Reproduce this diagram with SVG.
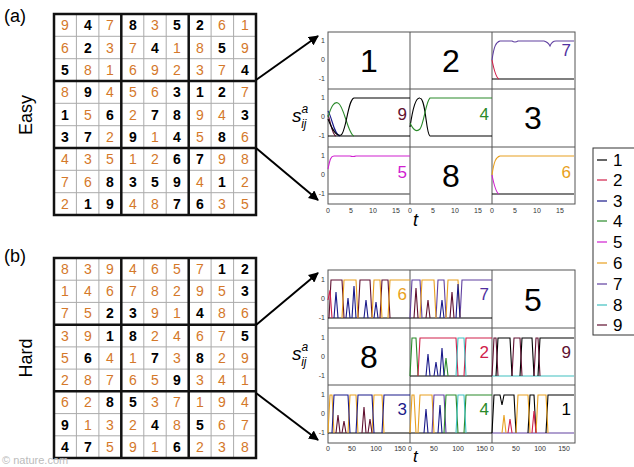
<svg xmlns="http://www.w3.org/2000/svg" width="634" height="467" viewBox="0 0 634 467">
<style>
text{font-family:"Liberation Sans",Arial,sans-serif}
.o{fill:#d4782a;font-size:14px;text-anchor:middle}
.b{fill:#000;font-size:14px;font-weight:bold;text-anchor:middle}
.thin{stroke:#aaa;stroke-width:1;fill:none}
.thick{stroke:#111;stroke-width:2.5;fill:none}
.pan{fill:#fff;stroke:#555;stroke-width:1}
.big{font-size:32px;text-anchor:middle;fill:#000}
.lab{font-size:17px;text-anchor:end}
.tk{font-size:7px;fill:#333;font-family:"Liberation Serif",serif}
.c{fill:none;stroke-width:1.1}
.arr{stroke:#000;stroke-width:2;fill:none;marker-end:url(#ah)}
.leg{font-size:17px;fill:#000}
</style>
<defs>
<marker id="ah" viewBox="0 0 10 10" refX="9" refY="5" markerWidth="5" markerHeight="5" orient="auto"><path d="M0,0 L10,5 L0,10 z" fill="#000"/></marker>
</defs>
<rect width="634" height="467" fill="#fff"/>
<text x="4" y="22" font-family="Liberation Serif,serif" font-size="18">(a)</text>
<text x="4" y="262" font-family="Liberation Serif,serif" font-size="18">(b)</text>
<text transform="translate(32,115) rotate(-90)" font-size="18" text-anchor="middle">Easy</text>
<text transform="translate(32,358) rotate(-90)" font-size="18" text-anchor="middle">Hard</text>

<g id="easy-grid">
<path class="thin" d="M76.4,14v201M98.9,14v201M143.8,14v201M166.2,14v201M211.1,14v201M233.6,14v201M54,36.3h202M54,58.7h202M54,103.3h202M54,125.7h202M54,170.3h202M54,192.7h202"/>
<path class="thick" d="M54,14h202v201h-202zM121.3,14v201M188.7,14v201M54,81h202M54,148h202"/>
<g id="easy-digits">
<text class="o" x="65" y="30">9</text><text class="b" x="88" y="30">4</text><text class="o" x="110" y="30">7</text><text class="b" x="133" y="30">8</text><text class="o" x="155" y="30">3</text><text class="b" x="177" y="30">5</text><text class="b" x="200" y="30">2</text><text class="o" x="222" y="30">6</text><text class="o" x="245" y="30">1</text>
<text class="o" x="65" y="53">6</text><text class="b" x="88" y="53">2</text><text class="o" x="110" y="53">3</text><text class="o" x="133" y="53">7</text><text class="b" x="155" y="53">4</text><text class="o" x="177" y="53">1</text><text class="o" x="200" y="53">8</text><text class="b" x="222" y="53">5</text><text class="o" x="245" y="53">9</text>
<text class="b" x="65" y="75">5</text><text class="o" x="88" y="75">8</text><text class="o" x="110" y="75">1</text><text class="o" x="133" y="75">6</text><text class="o" x="155" y="75">9</text><text class="o" x="177" y="75">2</text><text class="o" x="200" y="75">3</text><text class="o" x="222" y="75">7</text><text class="b" x="245" y="75">4</text>
<text class="o" x="65" y="97">8</text><text class="b" x="88" y="97">9</text><text class="o" x="110" y="97">4</text><text class="o" x="133" y="97">5</text><text class="o" x="155" y="97">6</text><text class="b" x="177" y="97">3</text><text class="b" x="200" y="97">1</text><text class="b" x="222" y="97">2</text><text class="o" x="245" y="97">7</text>
<text class="b" x="65" y="120">1</text><text class="o" x="88" y="120">5</text><text class="b" x="110" y="120">6</text><text class="o" x="133" y="120">2</text><text class="b" x="155" y="120">7</text><text class="b" x="177" y="120">8</text><text class="o" x="200" y="120">9</text><text class="o" x="222" y="120">4</text><text class="b" x="245" y="120">3</text>
<text class="b" x="65" y="142">3</text><text class="b" x="88" y="142">7</text><text class="o" x="110" y="142">2</text><text class="b" x="133" y="142">9</text><text class="o" x="155" y="142">1</text><text class="b" x="177" y="142">4</text><text class="o" x="200" y="142">5</text><text class="b" x="222" y="142">8</text><text class="o" x="245" y="142">6</text>
<text class="o" x="65" y="164">4</text><text class="o" x="88" y="164">3</text><text class="o" x="110" y="164">5</text><text class="o" x="133" y="164">1</text><text class="o" x="155" y="164">2</text><text class="b" x="177" y="164">6</text><text class="b" x="200" y="164">7</text><text class="o" x="222" y="164">9</text><text class="o" x="245" y="164">8</text>
<text class="o" x="65" y="187">7</text><text class="o" x="88" y="187">6</text><text class="b" x="110" y="187">8</text><text class="b" x="133" y="187">3</text><text class="b" x="155" y="187">5</text><text class="b" x="177" y="187">9</text><text class="o" x="200" y="187">4</text><text class="b" x="222" y="187">1</text><text class="o" x="245" y="187">2</text>
<text class="o" x="65" y="209">2</text><text class="b" x="88" y="209">1</text><text class="b" x="110" y="209">9</text><text class="o" x="133" y="209">4</text><text class="o" x="155" y="209">8</text><text class="b" x="177" y="209">7</text><text class="b" x="200" y="209">6</text><text class="o" x="222" y="209">3</text><text class="o" x="245" y="209">5</text>
</g>
</g>

<g id="hard-grid">
<path class="thin" d="M76.4,258v200M98.9,258v200M143.8,258v200M166.2,258v200M211.1,258v200M233.6,258v200M54,280.2h202M54,302.4h202M54,346.9h202M54,369.1h202M54,413.6h202M54,435.8h202"/>
<path class="thick" d="M54,258h202v200h-202zM121.3,258v200M188.7,258v200M54,324.7h202M54,391.3h202"/>
<g id="hard-digits">
<text class="o" x="65" y="274">8</text><text class="o" x="88" y="274">3</text><text class="o" x="110" y="274">9</text><text class="o" x="133" y="274">4</text><text class="o" x="155" y="274">6</text><text class="o" x="177" y="274">5</text><text class="o" x="200" y="274">7</text><text class="b" x="222" y="274">1</text><text class="b" x="245" y="274">2</text>
<text class="o" x="65" y="296">1</text><text class="o" x="88" y="296">4</text><text class="o" x="110" y="296">6</text><text class="o" x="133" y="296">7</text><text class="o" x="155" y="296">8</text><text class="o" x="177" y="296">2</text><text class="o" x="200" y="296">9</text><text class="o" x="222" y="296">5</text><text class="b" x="245" y="296">3</text>
<text class="o" x="65" y="318">7</text><text class="o" x="88" y="318">5</text><text class="b" x="110" y="318">2</text><text class="b" x="133" y="318">3</text><text class="o" x="155" y="318">9</text><text class="o" x="177" y="318">1</text><text class="b" x="200" y="318">4</text><text class="o" x="222" y="318">8</text><text class="o" x="245" y="318">6</text>
<text class="o" x="65" y="341">3</text><text class="o" x="88" y="341">9</text><text class="b" x="110" y="341">1</text><text class="b" x="133" y="341">8</text><text class="o" x="155" y="341">2</text><text class="o" x="177" y="341">4</text><text class="o" x="200" y="341">6</text><text class="o" x="222" y="341">7</text><text class="b" x="245" y="341">5</text>
<text class="o" x="65" y="363">5</text><text class="b" x="88" y="363">6</text><text class="o" x="110" y="363">4</text><text class="o" x="133" y="363">1</text><text class="b" x="155" y="363">7</text><text class="o" x="177" y="363">3</text><text class="b" x="200" y="363">8</text><text class="o" x="222" y="363">2</text><text class="o" x="245" y="363">9</text>
<text class="o" x="65" y="385">2</text><text class="o" x="88" y="385">8</text><text class="o" x="110" y="385">7</text><text class="o" x="133" y="385">6</text><text class="o" x="155" y="385">5</text><text class="b" x="177" y="385">9</text><text class="o" x="200" y="385">3</text><text class="o" x="222" y="385">4</text><text class="o" x="245" y="385">1</text>
<text class="o" x="65" y="407">6</text><text class="o" x="88" y="407">2</text><text class="b" x="110" y="407">8</text><text class="b" x="133" y="407">5</text><text class="o" x="155" y="407">3</text><text class="o" x="177" y="407">7</text><text class="o" x="200" y="407">1</text><text class="o" x="222" y="407">9</text><text class="o" x="245" y="407">4</text>
<text class="b" x="65" y="430">9</text><text class="o" x="88" y="430">1</text><text class="o" x="110" y="430">3</text><text class="o" x="133" y="430">2</text><text class="b" x="155" y="430">4</text><text class="o" x="177" y="430">8</text><text class="b" x="200" y="430">5</text><text class="o" x="222" y="430">6</text><text class="o" x="245" y="430">7</text>
<text class="b" x="65" y="452">4</text><text class="b" x="88" y="452">7</text><text class="o" x="110" y="452">5</text><text class="o" x="133" y="452">9</text><text class="o" x="155" y="452">1</text><text class="b" x="177" y="452">6</text><text class="o" x="200" y="452">2</text><text class="o" x="222" y="452">3</text><text class="o" x="245" y="452">8</text>
</g>
</g>

<g id="connectors">
<path class="arr" d="M256,80 L318,36"/>
<path class="arr" d="M256,148 L318,200"/>
<path class="arr" d="M256,325 L318,273"/>
<path class="arr" d="M256,393 L318,440"/>
</g>

<g id="easy-plots">
<rect class="pan" x="328" y="32" width="247" height="172"/>
<path stroke="#555" d="M410,32v172M492,32v172M328,89h247M328,147h247"/>
<text class="big" x="369" y="72">1</text>
<text class="big" x="451" y="72">2</text>
<text class="big" x="533" y="129">3</text>
<text class="big" x="451" y="187">8</text>
<g transform="translate(492,32)">
<path class="c" stroke="#000" d="M0,47H82"/>
<path class="c" stroke="#d0204a" d="M0,28C2,38 4,46 7,47"/>
<path class="c" stroke="#6040a0" d="M0,28C2,14 4,10 8,9H20Q23,11 26,9H52Q56,10 58,14Q60,9 64,9H82"/>
<text class="lab" x="79" y="24" fill="#5030a0">7</text>
</g>
<g transform="translate(328,89)">
<path class="c" stroke="#000" d="M0,47H82"/>
<path class="c" stroke="#1a1a8a" d="M0,22C4,28 6,46 12,47"/>
<path class="c" stroke="#601030" d="M0,26C3,34 4,46 8,47"/>
<path class="c" stroke="#2a8a2a" d="M0,28C3,18 6,12 10,14C16,16 20,46 26,47"/>
<path class="c" stroke="#000" d="M0,30C4,40 8,48 13,46C18,44 20,10 26,9H82"/>
<text class="lab" x="79" y="31" fill="#601030">9</text>
</g>
<g transform="translate(410,89)">
<path class="c" stroke="#000" d="M0,38C3,18 6,8 10,9C16,10 16,46 20,47H82"/>
<path class="c" stroke="#2a8a2a" d="M0,34C3,40 6,44 10,40C14,34 16,12 20,9H82"/>
<text class="lab" x="79" y="31" fill="#2a8a2a">4</text>
</g>
<g transform="translate(328,147)">
<path stroke="#777" stroke-width="1.5" d="M0,47H82"/>
<path class="c" stroke="#d020d0" d="M0,22C2,12 3,9 6,9H22Q25,10 28,9H82"/>
<text class="lab" x="79" y="31" fill="#d020d0">5</text>
</g>
<g transform="translate(492,147)">
<path class="c" stroke="#000" d="M0,47H82"/>
<path class="c" stroke="#d020d0" d="M0,28C2,38 4,46 7,47"/>
<path class="c" stroke="#e8a020" d="M0,28C2,14 4,10 8,9H82"/>
<text class="lab" x="79" y="31" fill="#e8a020">6</text>
</g>
<g class="tk" text-anchor="end">
<text x="325" y="43">1</text><text x="325" y="62">0</text><text x="325" y="81">-1</text>
<text x="325" y="100">1</text><text x="325" y="119">0</text><text x="325" y="138">-1</text>
<text x="325" y="158">1</text><text x="325" y="177">0</text><text x="325" y="196">-1</text>
</g>
<g class="tk" text-anchor="middle">
<text x="328" y="213">0</text><text x="351" y="213">5</text><text x="373" y="213">10</text><text x="396" y="213">15</text>
<text x="410" y="213">0</text><text x="433" y="213">5</text><text x="455" y="213">10</text><text x="478" y="213">15</text>
<text x="492" y="213">0</text><text x="515" y="213">5</text><text x="537" y="213">10</text><text x="560" y="213">15</text>
</g>
<text x="413" y="226" font-family="Liberation Serif,serif" font-style="italic" font-size="18">t</text>
<text x="292" y="122" font-family="Liberation Serif,serif" font-style="italic" font-size="19">s<tspan font-size="12" dy="-9">a</tspan><tspan font-size="12" dx="-7" dy="15">ij</tspan></text>
</g>

<g id="hard-plots">
<rect class="pan" x="328" y="270" width="247" height="173"/>
<path stroke="#555" d="M410,270v173M492,270v173M328,328h247M328,385h247"/>
<text class="big" x="533" y="311">5</text>
<text class="big" x="369" y="368">8</text>
<g transform="translate(328,270)">
<path class="c" stroke="#000" d="M0,48H82"/>
<path class="c" stroke="#601030" d="M1,48L3,10H14L16,48M30,48L32,10H42L44,48M52,48L54,10H60L62,48"/>
<path class="c" stroke="#e8a020" d="M14,48L16,10H28L30,48M44,48L46,10H52L54,48M60,48L62,10H82"/>
<path class="c" stroke="#1a1a8a" d="M6,48L8,22L10,48M18,48L20,28L22,48M24,48L26,16L28,48M36,48L38,30L40,48M46,48L48,32L50,48"/>
<path class="c" stroke="#d0204a" d="M0,30L2,20L4,48"/>
<text class="lab" x="79" y="30" fill="#e8a020">6</text>
</g>
<g transform="translate(410,270)">
<path class="c" stroke="#000" d="M0,48H82"/>
<path class="c" stroke="#6040a0" d="M0,48L2,10H10L12,48M26,48L28,10H34L36,48M50,48L52,10H82"/>
<path class="c" stroke="#e8a020" d="M10,48L12,10H24L26,48M36,48L38,10H48L50,48"/>
<path class="c" stroke="#601030" d="M4,48L6,18L8,48M16,48L18,30L20,48M40,48L42,22L44,48"/>
<path class="c" stroke="#1a1a8a" d="M30,48L32,30L34,48M46,48L48,14L50,48"/>
<text class="lab" x="79" y="30" fill="#5030a0">7</text>
</g>
<g transform="translate(410,328)">
<path class="c" stroke="#000" d="M0,48H82"/>
<path class="c" stroke="#2a8a2a" d="M0,48L2,10H6L8,48M34,48L36,30L38,48"/>
<path class="c" stroke="#d0204a" d="M8,48L10,10H46L48,48M54,48L56,10H82"/>
<path class="c" stroke="#1a1a8a" d="M16,48L18,26L20,48M24,48L26,34L28,48M30,48L32,20L34,48"/>
<path class="c" stroke="#40c0c0" d="M46,48L48,10H54L56,48"/>
<text class="lab" x="79" y="30" fill="#d0204a">2</text>
</g>
<g transform="translate(492,328)">
<path class="c" stroke="#40c0c0" d="M0,48H82"/>
<path class="c" stroke="#000" d="M4,48L6,10H18L20,48M28,48L30,10H40L42,48M46,48L48,10H82"/>
<path class="c" stroke="#601030" d="M0,48L2,10H4L6,48M20,48L22,10H28L30,48M42,48L44,10H46L48,48"/>
<text class="lab" x="79" y="30" fill="#601030">9</text>
</g>
<g transform="translate(328,385)">
<path class="c" stroke="#000" d="M0,48H82"/>
<path class="c" stroke="#e8a020" d="M0,48L2,10H4L6,48M20,48L22,10H28L30,48M44,48L46,10H54L56,48"/>
<path class="c" stroke="#1a1a8a" d="M4,48L6,10H20L22,48M28,48L30,10H44L46,48M54,48L56,10H82"/>
<path class="c" stroke="#601030" d="M8,48L10,30L12,48M14,48L16,36L18,48M34,48L36,22L38,48M40,48L42,34L44,48"/>
<text class="lab" x="79" y="30" fill="#1a1a8a">3</text>
</g>
<g transform="translate(410,385)">
<path class="c" stroke="#000" d="M0,48H82"/>
<path class="c" stroke="#e8a020" d="M0,48L2,10H4L6,48M8,48L10,10H22L24,48"/>
<path class="c" stroke="#6040a0" d="M22,48L24,10H34L36,48"/>
<path class="c" stroke="#2a8a2a" d="M34,48L36,10H46L48,48M54,48L56,10H82"/>
<path class="c" stroke="#40c0c0" d="M46,48L48,10H54L56,48"/>
<path class="c" stroke="#1a1a8a" d="M14,48L16,24L18,48M28,48L30,20L32,48"/>
<text class="lab" x="79" y="30" fill="#2a8a2a">4</text>
</g>
<g transform="translate(492,385)">
<path class="c" stroke="#6040a0" d="M0,48H82"/>
<path class="c" stroke="#000" d="M0,48L2,10H8L10,20L12,10H22L24,48M36,48L38,10H42L44,48M54,48L56,10H82"/>
<path class="c" stroke="#e8a020" d="M10,48L12,30L14,48M24,48L26,10H36L38,48M44,48L46,10H54L56,48"/>
<path class="c" stroke="#d0204a" d="M16,48L18,34L20,48M40,48L42,26L44,48"/>
<text class="lab" x="79" y="30" fill="#000">1</text>
</g>
<g class="tk" text-anchor="end">
<text x="325" y="282">1</text><text x="325" y="301">0</text><text x="325" y="320">-1</text>
<text x="325" y="340">1</text><text x="325" y="359">0</text><text x="325" y="378">-1</text>
<text x="325" y="397">1</text><text x="325" y="416">0</text><text x="325" y="435">-1</text>
</g>
<g class="tk" text-anchor="middle">
<text x="328" y="451">0</text><text x="352" y="451">50</text><text x="376" y="451">100</text><text x="400" y="451">150</text>
<text x="410" y="451">0</text><text x="434" y="451">50</text><text x="458" y="451">100</text><text x="482" y="451">150</text>
<text x="492" y="451">0</text><text x="516" y="451">50</text><text x="540" y="451">100</text><text x="564" y="451">150</text>
</g>
<text x="413" y="462" font-family="Liberation Serif,serif" font-style="italic" font-size="17">t</text>
<text x="292" y="360" font-family="Liberation Serif,serif" font-style="italic" font-size="19">s<tspan font-size="12" dy="-9">a</tspan><tspan font-size="12" dx="-7" dy="15">ij</tspan></text>
</g>

<g id="legend">
<rect x="593" y="148" width="45" height="187" fill="#fff" stroke="#333"/>
<path stroke-width="1.2" d="M597,160h10" stroke="#000"/><text class="leg" x="613" y="166">1</text>
<path stroke-width="1.2" d="M597,180h10" stroke="#d0204a"/><text class="leg" x="613" y="186">2</text>
<path stroke-width="1.2" d="M597,201h10" stroke="#1a1a8a"/><text class="leg" x="613" y="207">3</text>
<path stroke-width="1.2" d="M597,221h10" stroke="#2a8a2a"/><text class="leg" x="613" y="227">4</text>
<path stroke-width="1.2" d="M597,242h10" stroke="#d020d0"/><text class="leg" x="613" y="248">5</text>
<path stroke-width="1.2" d="M597,263h10" stroke="#e8a020"/><text class="leg" x="613" y="269">6</text>
<path stroke-width="1.2" d="M597,284h10" stroke="#6040a0"/><text class="leg" x="613" y="290">7</text>
<path stroke-width="1.2" d="M597,305h10" stroke="#40c0c0"/><text class="leg" x="613" y="311">8</text>
<path stroke-width="1.2" d="M597,325h10" stroke="#601030"/><text class="leg" x="613" y="331">9</text>
</g>
<text x="2" y="464" font-size="11" fill="#bbb">© nature.com</text>
</svg>
